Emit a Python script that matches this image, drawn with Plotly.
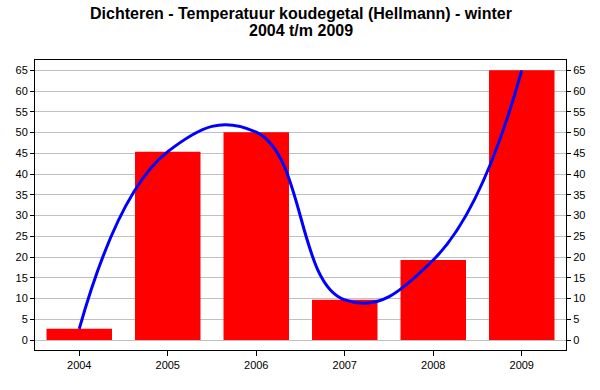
import plotly.graph_objects as go

years = ["2004", "2005", "2006", "2007", "2008", "2009"]
values = [2.7, 45.4, 50.1, 9.7, 19.3, 65.0]
yticks = list(range(0, 70, 5))
title_lines = ["Dichteren - Temperatuur koudegetal (Hellmann) - winter", "2004 t/m 2009"]

fig = go.Figure()
fig.add_trace(go.Scatter(x=years, y=values, mode="lines",
                         line=dict(color="#0000FF", width=3, shape="spline", smoothing=1.3),
                         hoverinfo="skip", showlegend=False))
fig.add_trace(go.Bar(x=years, y=values, marker=dict(color="#FF0000", line=dict(width=0)),
                     width=0.74, showlegend=False))
fig.add_trace(go.Scatter(x=years, y=values, yaxis="y2", mode="none",
                         hoverinfo="skip", showlegend=False))

axis_font = dict(family="Liberation Sans, Arial, sans-serif", size=11, color="black")
title_font = dict(family="Liberation Sans, Arial, sans-serif", size=16, color="black")
for i, line in enumerate(title_lines):
    fig.add_annotation(text="<b>" + line + "</b>", xref="paper", yref="paper",
                       x=0.5, xanchor="center", y=1 + (47 - 18 * i) / 290, yanchor="middle",
                       showarrow=False, font=title_font)

fig.update_layout(
    width=600, height=390,
    margin=dict(l=35, r=34, t=60, b=40, autoexpand=False),
    paper_bgcolor="white", plot_bgcolor="white",
    xaxis=dict(type="category", range=[-0.5, 5.5], showgrid=False, automargin=False,
               ticks="outside", ticklen=5, tickcolor="black",
               showline=True, linecolor="black", linewidth=1, mirror=True,
               tickfont=axis_font),
    yaxis=dict(range=[-2.4, 67.5], tickvals=yticks, showgrid=True, gridcolor="#C0C0C0",
               gridwidth=1, zeroline=False, ticks="outside", ticklen=4, tickcolor="black",
               showline=True, linecolor="black", linewidth=1, tickfont=axis_font, automargin=False),
    yaxis2=dict(range=[-2.4, 67.5], tickvals=yticks, overlaying="y", side="right",
                showgrid=False, zeroline=False, ticks="outside", ticklen=4, tickcolor="black",
                showline=True, linecolor="black", linewidth=1, tickfont=axis_font, automargin=False),
    bargap=0.26,
)
fig.write_html("out.html", config={"displayModeBar": False},
               post_script="document.body.style.margin='0';document.body.style.padding='0';")
